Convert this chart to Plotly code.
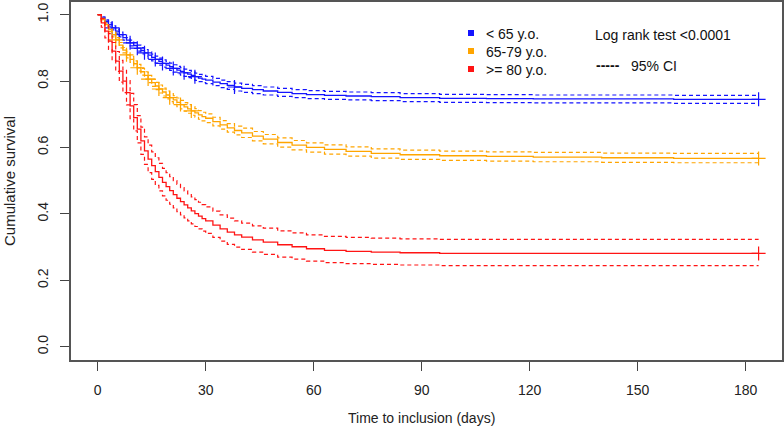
import plotly.graph_objects as go

# ---------------- data ----------------
days = [0, 1, 2, 3, 4, 5, 6, 7, 8, 9, 10, 11, 12, 13, 14, 15, 16, 17, 18, 19, 20,
        21, 22, 23, 24, 25, 26, 27, 28, 29, 30, 32, 34, 36, 38, 40, 43, 46, 50, 54,
        58, 63, 69, 76, 84, 95, 108, 121, 140, 160, 183.6]

blue_surv = [1.000, 0.990, 0.980, 0.970, 0.960, 0.950, 0.940, 0.931, 0.923, 0.915, 0.907,
             0.899, 0.892, 0.885, 0.878, 0.871, 0.865, 0.859, 0.853, 0.848, 0.843,
             0.838, 0.833, 0.829, 0.825, 0.821, 0.817, 0.813, 0.809, 0.806, 0.803,
             0.797, 0.792, 0.787, 0.782, 0.778, 0.774, 0.770, 0.766, 0.762,
             0.759, 0.757, 0.755, 0.753, 0.750, 0.748, 0.747, 0.746, 0.746, 0.745, 0.745]
blue_lower = [1.000, 0.987, 0.976, 0.965, 0.954, 0.944, 0.933, 0.923, 0.915, 0.906, 0.898,
              0.890, 0.882, 0.875, 0.868, 0.861, 0.854, 0.848, 0.842, 0.837, 0.832,
              0.827, 0.822, 0.818, 0.814, 0.810, 0.806, 0.802, 0.798, 0.795, 0.792,
              0.786, 0.780, 0.775, 0.770, 0.766, 0.762, 0.758, 0.754, 0.750,
              0.747, 0.745, 0.743, 0.741, 0.738, 0.736, 0.735, 0.734, 0.734, 0.733, 0.733]
blue_upper = [1.000, 0.993, 0.984, 0.975, 0.966, 0.956, 0.947, 0.939, 0.931, 0.923, 0.916,
              0.908, 0.901, 0.895, 0.888, 0.881, 0.875, 0.869, 0.864, 0.859, 0.854,
              0.849, 0.844, 0.840, 0.836, 0.832, 0.828, 0.824, 0.820, 0.817, 0.814,
              0.808, 0.803, 0.798, 0.794, 0.790, 0.786, 0.782, 0.778, 0.774,
              0.771, 0.769, 0.767, 0.765, 0.762, 0.760, 0.759, 0.758, 0.758, 0.757, 0.757]

orange_surv = [1.000, 0.985, 0.970, 0.955, 0.940, 0.924, 0.908, 0.893, 0.879, 0.865, 0.852,
               0.840, 0.828, 0.817, 0.806, 0.795, 0.785, 0.776, 0.767, 0.758, 0.750,
               0.743, 0.736, 0.729, 0.722, 0.716, 0.710, 0.704, 0.698, 0.693, 0.688,
               0.678, 0.668, 0.659, 0.651, 0.644, 0.634, 0.625, 0.615, 0.607,
               0.600, 0.594, 0.588, 0.582, 0.578, 0.575, 0.573, 0.571, 0.569, 0.567, 0.567]
orange_lower = [1.000, 0.981, 0.965, 0.949, 0.933, 0.917, 0.900, 0.885, 0.870, 0.856, 0.843,
                0.830, 0.818, 0.806, 0.795, 0.784, 0.774, 0.764, 0.755, 0.746, 0.738,
                0.730, 0.723, 0.716, 0.709, 0.703, 0.697, 0.691, 0.685, 0.680, 0.675,
                0.665, 0.655, 0.646, 0.638, 0.630, 0.620, 0.611, 0.601, 0.593,
                0.586, 0.580, 0.574, 0.568, 0.564, 0.561, 0.559, 0.557, 0.555, 0.554, 0.554]
orange_upper = [1.000, 0.989, 0.975, 0.961, 0.947, 0.931, 0.916, 0.901, 0.888, 0.874, 0.861,
                0.850, 0.838, 0.828, 0.817, 0.806, 0.796, 0.788, 0.779, 0.770, 0.762,
                0.756, 0.749, 0.742, 0.735, 0.729, 0.723, 0.717, 0.711, 0.706, 0.701,
                0.691, 0.681, 0.672, 0.664, 0.658, 0.648, 0.639, 0.629, 0.621,
                0.614, 0.608, 0.602, 0.596, 0.592, 0.589, 0.587, 0.585, 0.583, 0.582, 0.582]

red_surv = [1.000, 0.975, 0.950, 0.920, 0.890, 0.860, 0.830, 0.800, 0.765, 0.725, 0.690,
            0.655, 0.620, 0.590, 0.565, 0.545, 0.527, 0.510, 0.495, 0.482, 0.470,
            0.458, 0.447, 0.437, 0.427, 0.418, 0.409, 0.401, 0.393, 0.386, 0.379,
            0.366, 0.355, 0.345, 0.337, 0.330, 0.322, 0.315, 0.307, 0.301,
            0.295, 0.290, 0.287, 0.285, 0.283, 0.281, 0.281, 0.281, 0.281, 0.281, 0.281]
red_lower = [1.000, 0.962, 0.930, 0.895, 0.862, 0.829, 0.797, 0.765, 0.728, 0.687, 0.650,
             0.614, 0.579, 0.549, 0.524, 0.504, 0.486, 0.469, 0.454, 0.441, 0.429,
             0.418, 0.407, 0.397, 0.388, 0.379, 0.370, 0.362, 0.355, 0.348, 0.341,
             0.329, 0.318, 0.308, 0.300, 0.293, 0.285, 0.278, 0.270, 0.264,
             0.258, 0.253, 0.250, 0.248, 0.246, 0.244, 0.244, 0.244, 0.244, 0.244, 0.244]
red_upper = [1.000, 0.988, 0.968, 0.943, 0.916, 0.889, 0.862, 0.834, 0.801, 0.763, 0.729,
             0.696, 0.661, 0.632, 0.607, 0.587, 0.569, 0.552, 0.537, 0.524, 0.512,
             0.500, 0.489, 0.479, 0.469, 0.460, 0.451, 0.443, 0.435, 0.428, 0.421,
             0.408, 0.397, 0.387, 0.379, 0.372, 0.364, 0.357, 0.349, 0.343,
             0.337, 0.332, 0.329, 0.327, 0.325, 0.323, 0.323, 0.323, 0.323, 0.323, 0.323]

blue_censor = [4, 6, 9, 11, 13, 16, 18, 21, 24, 27, 38, 183.6]
orange_censor = [5, 8, 11, 14, 17, 20, 23, 26, 183.6]
red_censor = [183.6]

group_labels = ["< 65 y.o.", "65-79 y.o.", ">= 80 y.o."]
group_colors = ["#1414FF", "#FFA500", "#FF1414"]

x_ticks = [0, 30, 60, 90, 120, 150, 180]
y_ticks = [0.0, 0.2, 0.4, 0.6, 0.8, 1.0]
y_tick_text = ["0.0", "0.2", "0.4", "0.6", "0.8", "1.0"]

# ---------------- figure ----------------
def step_at(t, xs, ys):
    v = ys[0]
    for xx, yy in zip(xs, ys):
        if xx <= t:
            v = yy
    return v

series = [
    (blue_surv, blue_lower, blue_upper, blue_censor),
    (orange_surv, orange_lower, orange_upper, orange_censor),
    (red_surv, red_lower, red_upper, red_censor),
]

fig = go.Figure()
for (surv, lo, up, cens), col, lab in zip(series, group_colors, group_labels):
    for ci in (lo, up):
        fig.add_trace(go.Scatter(x=days, y=ci, mode="lines", line_shape="hv",
                                 line=dict(color=col, width=1.2, dash="4px,3px"),
                                 hoverinfo="skip", showlegend=False))
    fig.add_trace(go.Scatter(x=days, y=surv, mode="lines", line_shape="hv",
                             line=dict(color=col, width=1.3), name=lab, showlegend=False))
    fig.add_trace(go.Scatter(x=cens, y=[step_at(c, days, surv) for c in cens], mode="markers",
                             marker=dict(symbol="cross-thin", size=10,
                                         line=dict(color=col, width=1.2)),
                             hoverinfo="skip", showlegend=False))

# plot area in pixels
L, R, T, B = 71, 782, 2, 360
W, H = R - L, B - T


def px(xp):
    return (xp - L) / W


def py(yp):
    return 1 - (yp - T) / H


fam = "Liberation Sans, Arial, sans-serif"
xtick_font = dict(family=fam, size=14, color="#222")
ytick_font = dict(family=fam, size=14, color="#222")
legend_font = dict(family=fam, size=14, color="#111")

fig.update_xaxes(range=[-7.42, 190.1], tickvals=x_ticks, ticks="outside", ticklen=9,
                 tickcolor="#444", tickwidth=1, showline=True, linecolor="#555", linewidth=1.5,
                 mirror=True, showgrid=False, zeroline=False, tickfont=xtick_font,
                 ticklabelstandoff=7, automargin=False)
fig.update_yaxes(range=[-0.040, 1.038], tickvals=y_ticks, ticktext=y_tick_text, ticks="outside",
                 ticklen=9, tickcolor="#444", tickwidth=1, showline=True, linecolor="#555",
                 linewidth=1.5, mirror=True, showgrid=False, zeroline=False, tickfont=ytick_font,
                 tickangle=-90, ticklabelstandoff=7, automargin=False)

annotations = [
    dict(text="Time to inclusion (days)", x=px(421), y=py(418), xref="paper", yref="paper",
         showarrow=False, font=dict(family=fam, size=14, color="#222"),
         xanchor="center", yanchor="middle"),
    dict(text="Cumulative survival", x=px(9), y=py(181), xref="paper", yref="paper",
         showarrow=False, font=dict(family=fam, size=15, color="#222"), textangle=-90,
         xanchor="center", yanchor="middle"),
    dict(text="Log rank test <0.0001", x=px(593), y=py(35), xref="paper", yref="paper",
         showarrow=False, font=legend_font, xanchor="left", yanchor="middle"),
    dict(text="<b>-----</b>", x=px(594), y=py(65), xref="paper", yref="paper",
         showarrow=False, font=legend_font, xanchor="left", yanchor="middle"),
    dict(text="95% CI", x=px(629), y=py(66), xref="paper", yref="paper",
         showarrow=False, font=legend_font, xanchor="left", yanchor="middle"),
]
shapes = []
legend_y = [34, 52, 70]
for lab, col, ly in zip(group_labels, group_colors, legend_y):
    annotations.append(dict(text=lab, x=px(484), y=py(ly), xref="paper", yref="paper",
                            showarrow=False, font=legend_font, xanchor="left", yanchor="middle"))
    shapes.append(dict(type="rect", xref="paper", yref="paper", x0=px(468), x1=px(474),
                       y0=py(ly - 4), y1=py(ly + 2), fillcolor=col, line=dict(width=0)))

fig.update_layout(width=784, height=434, margin=dict(l=L, r=784 - R, t=T, b=434 - B),
                  paper_bgcolor="white", plot_bgcolor="white", showlegend=False,
                  annotations=annotations, shapes=shapes)

fig.write_html("out.html", config={"displayModeBar": False},
               post_script="document.body.style.margin='0';document.body.style.overflow='hidden';")
